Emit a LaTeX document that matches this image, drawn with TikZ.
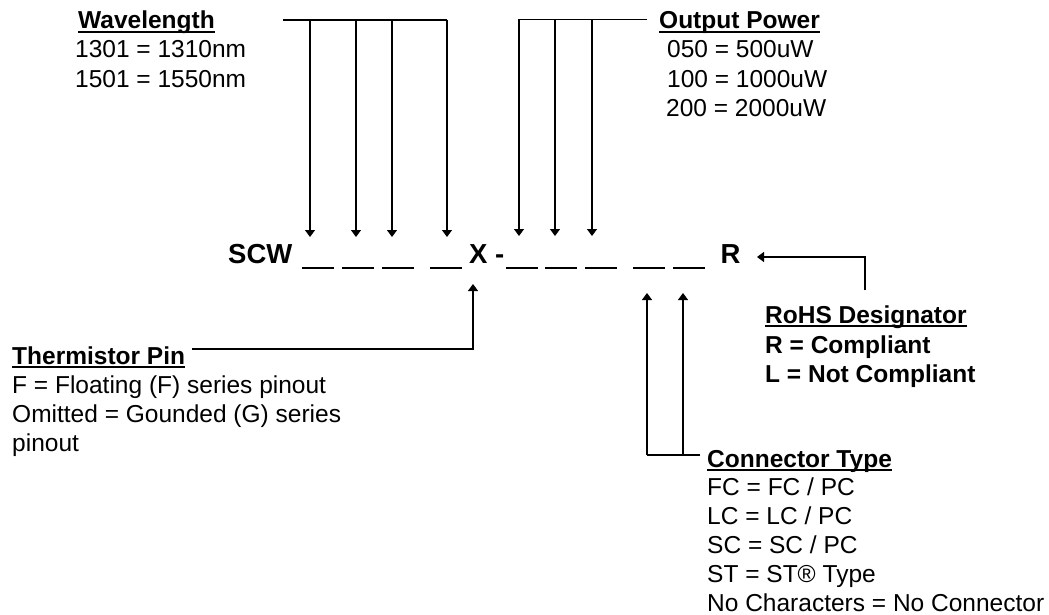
\documentclass[tikz,border=0pt]{standalone}
\usepackage{fontspec}
\setmainfont{Liberation Sans}
\usetikzlibrary{arrows.meta}
\newcommand{\hdrline}[1]{\setbox0\hbox{\bfseries #1}\rlap{\rule[-4.2pt]{\wd0}{1.8pt}}\box0}
\begin{document}
\begin{tikzpicture}[x=1pt,y=-1pt,
  txt/.style={anchor=base west, inner sep=0pt, font=\fontsize{24.5}{29.4}\selectfont},
  btxt/.style={txt, font=\fontsize{24.5}{29.4}\selectfont\bfseries},
  code/.style={anchor=base west, inner sep=0pt, font=\fontsize{27.5}{30}\selectfont\bfseries},
  slot/.style={fill=black, inner sep=0pt, minimum width=32pt, minimum height=2.7pt},
  conn/.style={line width=1.2pt, black},
  arr/.style={conn, -{Triangle[width=10pt,length=7pt]}}]
\useasboundingbox (0,0) rectangle (1049,615);

% ---- part number line ----
\node[code] (scw) at (228,263) {SCW};
\node[slot] (d1) at (318,268) {};
\node[slot] (d2) at (358,268) {};
\node[slot] (d3) at (398,268) {};
\node[slot] (d4) at (446,268) {};
\node[code] (xx) at (469,263) {X};
\node[code] (hy) at (495,263) {-};
\node[slot] (d5) at (521.5,268) {};
\node[slot] (d6) at (561,268) {};
\node[slot] (d7) at (601,268) {};
\node[slot] (d8) at (649,268) {};
\node[slot] (d9) at (689,268) {};
\node[code] (rr) at (720.5,263) {R};

% ---- Wavelength ----
\node[txt] (wlh) at (78,28.5) {\hdrline{Wavelength}};
\node[txt] (wl1) at (75,58) {1301 = 1310nm};
\node[txt] (wl2) at (75,87.5) {1501 = 1550nm};
\coordinate (wb0) at (283,20);
\coordinate (wb1) at (310,20);
\coordinate (wb2) at (356,20);
\coordinate (wb3) at (392,20);
\coordinate (wb4) at (447,20);
\coordinate (wa1) at (310,237);
\coordinate (wa2) at (356,237);
\coordinate (wa3) at (392,237);
\coordinate (wa4) at (447,237);
\draw[conn] (wb0) -- (wb4);
\draw[arr] (wb1) -- (wa1);
\draw[arr] (wb2) -- (wa2);
\draw[arr] (wb3) -- (wa3);
\draw[arr] (wb4) -- (wa4);

% ---- Output Power ----
\node[txt] (oph) at (659,29) {\hdrline{Output Power}};
\node[txt] (op1) at (667,58) {050 = 500uW};
\node[txt] (op2) at (667,87.5) {100 = 1000uW};
\node[txt] (op3) at (666,117) {200 = 2000uW};
\coordinate (ob0) at (647,19.5);
\coordinate (ob1) at (519,19.5);
\coordinate (ob2) at (555,19.5);
\coordinate (ob3) at (592,19.5);
\coordinate (oa1) at (519,236);
\coordinate (oa2) at (555,236);
\coordinate (oa3) at (592,236);
\draw[conn] (ob0) -- (ob1);
\draw[arr] (ob1) -- (oa1);
\draw[arr] (ob2) -- (oa2);
\draw[arr] (ob3) -- (oa3);

% ---- RoHS ----
\node[txt] (rh) at (765,323) {\hdrline{RoHS Designator}};
\node[btxt] (rh1) at (765,353) {R = Compliant};
\node[btxt] (rh2) at (765,382.5) {L = Not Compliant};
\coordinate (rb) at (865,290);
\coordinate (rc) at (865,257);
\coordinate (ra) at (757,257);
\draw[arr] (rb) -- (rc) -- (ra);

% ---- Thermistor ----
\node[txt] (th) at (12,364) {\hdrline{Thermistor Pin}};
\node[txt] (th1) at (12,393) {F = Floating (F) series pinout};
\node[txt] (th2) at (12,422) {Omitted = Gounded (G) series};
\node[txt] (th3) at (12,451) {pinout};
\coordinate (tb) at (192,349);
\coordinate (tc) at (473,349);
\coordinate (ta) at (473,284);
\draw[arr] (tb) -- (tc) -- (ta);

% ---- Connector Type ----
\node[txt] (ct) at (707,467) {\hdrline{Connector Type}};
\node[txt] (ct1) at (707,495.5) {FC = FC / PC};
\node[txt] (ct2) at (707,524.5) {LC = LC / PC};
\node[txt] (ct3) at (707,553.5) {SC = SC / PC};
\node[txt] (ct4) at (707,582.5) {ST = ST\textregistered{} Type};
\node[txt] (ct5) at (707,611) {No Characters = No Connector};
\coordinate (cb0) at (700,455);
\coordinate (cb1) at (683,455);
\coordinate (cb2) at (647,455);
\coordinate (ca1) at (683,293);
\coordinate (ca2) at (647,293);
\draw[conn] (cb0) -- (cb2);
\draw[arr] (cb1) -- (ca1);
\draw[arr] (cb2) -- (ca2);
\end{tikzpicture}
\end{document}
